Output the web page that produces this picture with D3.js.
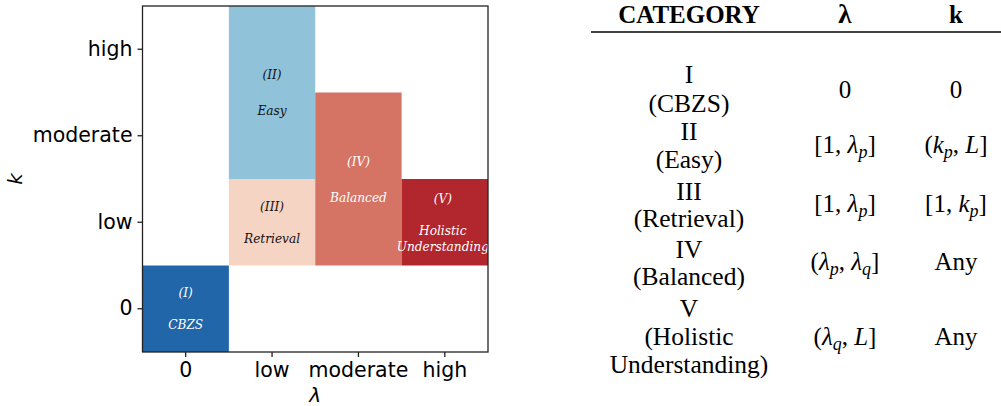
<!DOCTYPE html>
<html>
<head>
<meta charset="utf-8">
<script src="https://cdn.jsdelivr.net/npm/d3@7"></script>
<style>
  body { margin: 0; background: #fff; }
  svg { display: block; }
</style>
</head>
<body>
<svg id="chart" width="1001" height="406"></svg>
<script>
// categories on both axes
const lamCats = ['0', 'low', 'moderate', 'high'];
const kCats = ['0', 'low', 'moderate', 'high'];

// blocks: which lambda column, which k range
const blockIds = ['I', 'II', 'III', 'IV', 'V'];
const blockNames = ['CBZS', 'Easy', 'Retrieval', 'Balanced', 'Holistic\nUnderstanding'];
const blockLam = ['0', 'low', 'low', 'moderate', 'high'];
const blockKFrom = ['0', 'moderate', 'low', 'low', 'low'];
const blockKTo = ['0', 'high', 'low', 'moderate', 'low'];
const blockColors = ['#2166a9', '#90c2da', '#f6d4c3', '#d57464', '#b2262d'];
const blockText = ['#fff', '#111', '#111', '#fff', '#fff'];

// table
const tableHeader = ['CATEGORY', 'λ', 'k'];
const tableCat = [['I', '(CBZS)'], ['II', '(Easy)'], ['III', '(Retrieval)'], ['IV', '(Balanced)'], ['V', '(Holistic', 'Understanding)']];
const tableLam = ['0', '[1, λ_p]', '[1, λ_p]', '(λ_p, λ_q]', '(λ_q, L]'];
const tableK = ['0', '(k_p, L]', '[1, k_p]', 'Any', 'Any'];

const svg = d3.select('#chart');

const x = d3.scaleBand().domain(lamCats).range([142.5, 488]).padding(0);
const y = d3.scaleBand().domain(kCats.slice().reverse()).range([6, 352]).padding(0);

const plot = svg.append('g');

const blocks = blockIds.map((id, i) => ({
  id, name: blockNames[i], lam: blockLam[i],
  k0: blockKFrom[i], k1: blockKTo[i], color: blockColors[i], text: blockText[i]
}));

plot.selectAll('rect.block')
  .data(blocks)
  .join('rect')
  .attr('class', 'block')
  .attr('x', d => x(d.lam))
  .attr('width', x.bandwidth())
  .attr('y', d => y(d.k1))
  .attr('height', d => y(d.k0) + y.bandwidth() - y(d.k1))
  .attr('fill', d => d.color);

const lineH = 16;
blocks.forEach(d => {
  const lines = ['(' + d.id + ')', ''].concat(d.name.split('\n'));
  const cx = x(d.lam) + x.bandwidth() / 2;
  const cy = (y(d.k1) + y(d.k0) + y.bandwidth()) / 2;
  const n = lines.length;
  const extra = (y(d.k0) - y(d.k1)) > 1 ? 2 : 0;
  lines.forEach((t, j) => {
    if (!t) return;
    plot.append('text')
      .attr('x', cx - (n > 3 ? 2 : 0))
      .attr('y', cy + (j - (n - 1) / 2) * (lineH + extra))
      .attr('dy', '0.35em')
      .attr('text-anchor', 'middle')
      .attr('fill', d.text)
      .style('font-family', '"DejaVu Serif Condensed", "DejaVu Serif"')
      .style('font-stretch', 'condensed')
      .style('font-style', 'italic')
      .style('font-size', '13.5px')
      .text(t);
  });
});

// frame
plot.append('rect')
  .attr('x', 142.5).attr('y', 6)
  .attr('width', 488 - 142.5).attr('height', 352 - 6)
  .attr('fill', 'none').attr('stroke', '#222').attr('stroke-width', 1.3);

const xAxis = plot.append('g')
  .attr('transform', 'translate(0,352)')
  .call(d3.axisBottom(x).tickSize(5).tickPadding(5));
const yAxis = plot.append('g')
  .attr('transform', 'translate(142.5,0)')
  .call(d3.axisLeft(y).tickSize(5).tickPadding(5));
[xAxis, yAxis].forEach(a => {
  a.select('.domain').remove();
  a.selectAll('line').attr('stroke', '#222').attr('stroke-width', 1.3);
  a.selectAll('text').attr('fill', '#000')
    .style('font', '20.5px "DejaVu Sans"');
});

plot.append('text')
  .attr('x', (142.5 + 488) / 2).attr('y', 402)
  .attr('text-anchor', 'middle')
  .style('font', 'italic 20px "DejaVu Sans"')
  .text('λ');
plot.append('text')
  .attr('transform', 'translate(22,179) rotate(-90)')
  .attr('text-anchor', 'middle')
  .style('font', 'italic 20px "DejaVu Sans"')
  .text('k');

// table
const tbl = svg.append('g');
const colX = [689, 845, 956];
const serif = '"Liberation Serif", "Times New Roman", serif';

tableHeader.forEach((h, i) => {
  tbl.append('text')
    .attr('x', colX[i]).attr('y', 23)
    .attr('text-anchor', 'middle')
    .style('font-family', serif)
    .style('font-weight', 'bold')
    .style('font-size', i === 1 ? '27px' : '25px')
    .text(h);
});
tbl.append('line')
  .attr('x1', 591).attr('x2', 1001)
  .attr('y1', 32).attr('y2', 32)
  .attr('stroke', '#000').attr('stroke-width', 1.3);

const catBase = [[83, 112], [140, 168], [200, 227], [258, 285], [317, 345, 373]];
const valBase = [98, 153, 212, 270, 345];

tableCat.forEach((lines, i) => {
  lines.forEach((t, j) => {
    tbl.append('text')
      .attr('x', colX[0]).attr('y', catBase[i][j])
      .attr('text-anchor', 'middle')
      .style('font-family', serif)
      .style('font-size', '25.5px')
      .text(t);
  });
});

function mathText(sel, str) {
  // italic for variables, "_x" makes subscript
  const parts = str.split(/(_[a-z]|λ|k|L)/).filter(s => s);
  let shift = 0;
  parts.forEach(p => {
    if (p[0] === '_') {
      sel.append('tspan').attr('font-style', 'italic').attr('font-size', '18px')
        .attr('dy', 5).text(p[1]);
      shift = -5;
      return;
    }
    const ts = sel.append('tspan').text(p);
    if (p === 'λ' || p === 'k' || p === 'L') ts.attr('font-style', 'italic');
    if (shift) { ts.attr('dy', shift); shift = 0; }
  });
}

[tableLam, tableK].forEach((col, c) => {
  col.forEach((v, i) => {
    const t = tbl.append('text')
      .attr('x', colX[c + 1]).attr('y', valBase[i])
      .attr('text-anchor', 'middle')
      .style('font-family', serif)
      .style('font-size', '25px');
    if (v === 'Any') t.text(v);
    else mathText(t, v);
  });
});
</script>
</body>
</html>
